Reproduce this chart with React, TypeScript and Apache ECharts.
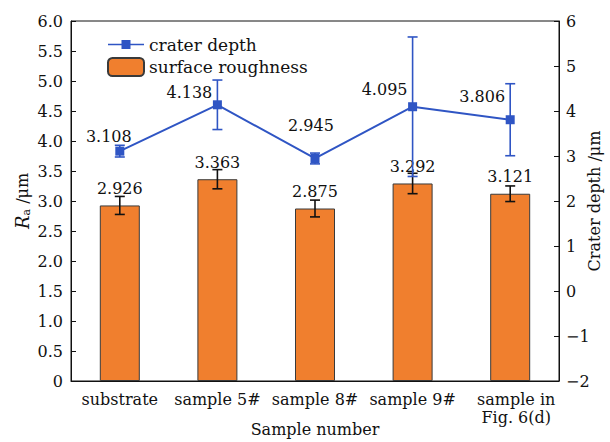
import React, { useEffect, useRef } from "react";
import * as echarts from "echarts";

const categories = ["substrate", "sample 5#", "sample 8#", "sample 9#", "sample in\nFig. 6(d)"];
const roughness = [2.926, 3.363, 2.875, 3.292, 3.121];
const roughnessErr = [0.15, 0.16, 0.14, 0.17, 0.13];
const craterDepth = [3.108, 4.138, 2.945, 4.095, 3.806];
const craterErr = [0.13, 0.55, 0.12, 1.55, 0.8];
const leftTicks = { min: 0, max: 6, interval: 0.5 };
const rightTicks = { min: -2, max: 6, interval: 1 };

// label placement (layout, not data)
const craterLabelOffsets = [
  [-11, -15],
  [-28, -12],
  [-4, -33],
  [-28, -17],
  [-28, -23],
];

const FONT = "DejaVu Serif";
const BLUE = "#2f55c4";
const ORANGE = "#f07f2e";
const INK = "#111111";

function errorSeries(name: string, values: number[], errs: number[], yAxisIndex: number, color: string, z: number) {
  return {
    name,
    type: "custom",
    yAxisIndex,
    z,
    silent: true,
    data: values.map((v, i) => [i, v - errs[i], v + errs[i]]),
    renderItem: (params: any, api: any) => {
      const x = api.value(0);
      const lo = api.coord([x, api.value(1)]);
      const hi = api.coord([x, api.value(2)]);
      const hw = 5;
      const style = { stroke: color, lineWidth: 1.6 };
      return {
        type: "group",
        children: [
          { type: "line", shape: { x1: lo[0], y1: lo[1], x2: hi[0], y2: hi[1] }, style },
          { type: "line", shape: { x1: hi[0] - hw, y1: hi[1], x2: hi[0] + hw, y2: hi[1] }, style },
          { type: "line", shape: { x1: lo[0] - hw, y1: lo[1], x2: lo[0] + hw, y2: lo[1] }, style },
        ],
      };
    },
  };
}

export default function App() {
  const ref = useRef<HTMLDivElement>(null);
  useEffect(() => {
    document.body.style.margin = "0";
    const chart = echarts.init(ref.current!, null, { renderer: "svg" });
    const txt = { fontFamily: FONT, fontSize: 16, color: INK };
    chart.setOption({
      animation: false,
      backgroundColor: "#ffffff",
      textStyle: { fontFamily: FONT },
      grid: {
        left: 71,
        right: 51,
        top: 21,
        bottom: 61,
        containLabel: false,
        outerBoundsMode: "none",
        show: true,
        borderColor: INK,
        borderWidth: 1,
        backgroundColor: "transparent",
      },
      legend: {
        data: [
          {
            name: "crater depth",
            icon: "path://M0,8.2 H36 V9.8 H0 Z M13.5,4.5 H22.5 V13.5 H13.5 Z",
          },
          { name: "surface roughness" },
        ],
        orient: "vertical",
        left: 102,
        top: 31,
        itemWidth: 36,
        itemHeight: 18,
        itemGap: 4,
        textStyle: { ...txt, fontSize: 17 },
      },
      xAxis: {
        type: "category",
        data: categories.map((c, i) =>
          i === categories.length - 1 ? { value: c, textStyle: { padding: [0, 0, 0, 12] } } : c
        ),
        axisLine: { lineStyle: { color: INK, width: 1 } },
        axisTick: { inside: true, alignWithLabel: true, length: 7, lineStyle: { color: INK } },
        axisLabel: { ...txt, margin: 9, lineHeight: 18, interval: 0 },
        name: "Sample number",
        nameLocation: "middle",
        nameGap: 40,
        nameMoveOverlap: false,
        nameTextStyle: { ...txt },
      },
      yAxis: [
        {
          type: "value",
          ...leftTicks,
          position: "left",
          splitLine: { show: false },
          axisLine: { show: true, lineStyle: { color: INK } },
          axisTick: { show: true, inside: true, length: 5, lineStyle: { color: INK } },
          axisLabel: {
            ...txt,
            margin: 8,
            formatter: (v: number) => (v === 0 ? "0" : v.toFixed(1)),
          },
          name: "{i|R}{s|a}{n| /μm}",
          nameLocation: "middle",
          nameGap: 39,
          nameMoveOverlap: false,
          nameTextStyle: {
            ...txt,
            rich: {
              i: { fontFamily: FONT, fontSize: 18, fontStyle: "italic", color: INK },
              s: { fontFamily: FONT, fontSize: 11, color: INK, verticalAlign: "bottom", padding: [9, 0, 0, 0] },
              n: { fontFamily: FONT, fontSize: 16, color: INK },
            },
          },
        },
        {
          type: "value",
          ...rightTicks,
          position: "right",
          splitLine: { show: false },
          axisLine: { show: true, lineStyle: { color: INK } },
          axisTick: { show: true, inside: true, length: 5, lineStyle: { color: INK } },
          axisLabel: {
            ...txt,
            margin: 7,
            formatter: (v: number) => (v < 0 ? "\u2212" + Math.abs(v) : String(v)),
          },
          name: "Crater depth /μm",
          nameLocation: "middle",
          nameGap: 27,
          nameMoveOverlap: false,
          nameTextStyle: { ...txt },
        },
      ],
      series: [
        {
          name: "surface roughness",
          type: "bar",
          yAxisIndex: 0,
          barWidth: 40,
          data: roughness,
          z: 2,
          itemStyle: { color: ORANGE, borderColor: "#3a3a3a", borderWidth: 1 },
          label: {
            show: true,
            position: "top",
            distance: 9,
            ...txt,
            formatter: (p: any) => p.value.toFixed(3),
          },
        },
        errorSeries("roughness error", roughness, roughnessErr, 0, INK, 3),
        {
          name: "crater depth",
          type: "line",
          yAxisIndex: 1,
          data: craterDepth.map((v, i) => ({
            value: v,
            label: { offset: craterLabelOffsets[i] },
          })),
          z: 5,
          symbol: "rect",
          symbolSize: 9,
          lineStyle: { color: BLUE, width: 2 },
          itemStyle: { color: BLUE },
          label: {
            show: true,
            position: "inside",
            ...txt,
            formatter: (p: any) => p.value.toFixed(3),
          },
        },
        errorSeries("crater error", craterDepth, craterErr, 1, BLUE, 4),
      ],
    });
    return () => chart.dispose();
  }, []);
  return <div ref={ref} style={{ width: 610, height: 442 }} />;
}
